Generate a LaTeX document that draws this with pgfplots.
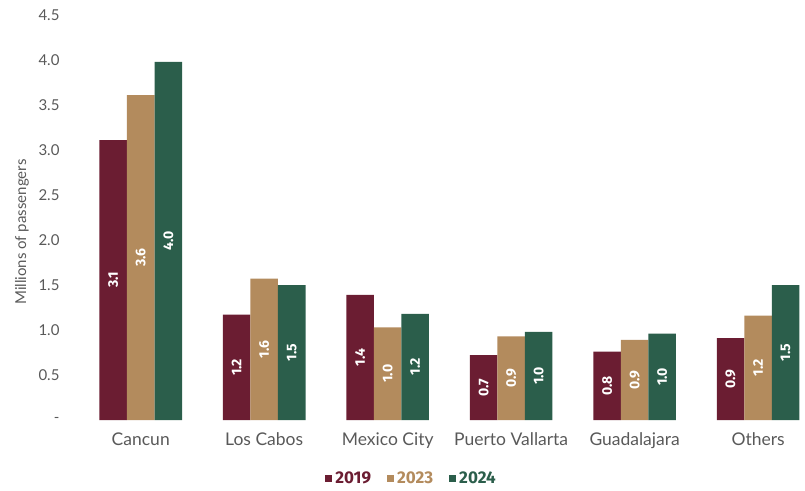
\documentclass[border=0pt]{standalone}
\usepackage{pgfplots}
\pgfplotsset{compat=1.18}
\usepackage{fontspec}
\setmainfont{Lato}
\newfontfamily\numfont{Fira Sans}
\definecolor{c19}{HTML}{6B1D32}
\definecolor{c23}{HTML}{B38B5D}
\definecolor{c24}{HTML}{2B5E4B}
\definecolor{tgray}{HTML}{595959}
\begin{document}
\begin{tikzpicture}
\begin{axis}[
  name=ax,
  scale only axis,
  width=726pt, height=405pt,
  ybar=0pt, bar width=0.223,
  xmin=-0.5, xmax=5.38,
  ymin=0, ymax=4.5,
  axis line style={draw=none},
  tick style={draw=none},
  xtick=data,
  xticklabels={Cancun, Los Cabos, Mexico City, Puerto Vallarta, Guadalajara, Others},
  ytick={0,0.5,1,1.5,2,2.5,3,3.5,4,4.5},
  yticklabels={-,0.5,1.0,1.5,2.0,2.5,3.0,3.5,4.0,4.5},
  major tick length=0pt,
  tick label style={font=\fontsize{15}{17}\selectfont, text=tgray},
  xticklabel style={font=\fontsize{17.5}{19}\selectfont, text=tgray, yshift=-9pt},
  yticklabel style={xshift=-16pt},
  /pgf/number format/assume math mode=true,
  ylabel={Millions of passengers},
  every axis y label/.style={at={(axis description cs:-0.0785,0.464)}, rotate=90, anchor=center,
     font=\fontsize{15}{17}\selectfont, text=tgray},
  nodes near coords,
  point meta=y,
  nodes near coords style={/pgf/number format/.cd, fixed, fixed zerofill, precision=1, /tikz/.cd},
  visualization depends on=y \as \rawy,
  every node near coord/.append style={yshift=-\rawy*45pt, rotate=90, anchor=center, text=white,
     font=\numfont\bfseries\fontsize{14}{16}\selectfont},
  legend style={draw=none, fill=none, at={(axis description cs:0.458,-0.145)}, anchor=center,
     legend columns=-1, font=\numfont\bfseries\fontsize{17}{19}\selectfont,
     /tikz/every odd column/.append style={column sep=1pt},
     /tikz/every even column/.append style={column sep=14pt}},
  legend image code/.code={\fill[#1] (0pt,-3.5pt) rectangle (7pt,3.5pt);},
]
\addplot[fill=c19, draw=none] coordinates {(0,3.11) (1,1.17) (2,1.39) (3,0.72) (4,0.76) (5,0.91)};
\addplot[fill=c23, draw=none] coordinates {(0,3.61) (1,1.57) (2,1.03) (3,0.93) (4,0.89) (5,1.16)};
\addplot[fill=c24, draw=none] coordinates {(0,3.98) (1,1.50) (2,1.18) (3,0.98) (4,0.96) (5,1.50)};
\addlegendentry{\textcolor{c19}{2019}}
\addlegendentry{\textcolor{c23}{2023}}
\addlegendentry{\textcolor{c24}{2024}}
\end{axis}
\pgfresetboundingbox
\path[use as bounding box] ([xshift=-79pt,yshift=-70pt]ax.south west) rectangle ([yshift=15pt]ax.north east);
\end{tikzpicture}
\end{document}
